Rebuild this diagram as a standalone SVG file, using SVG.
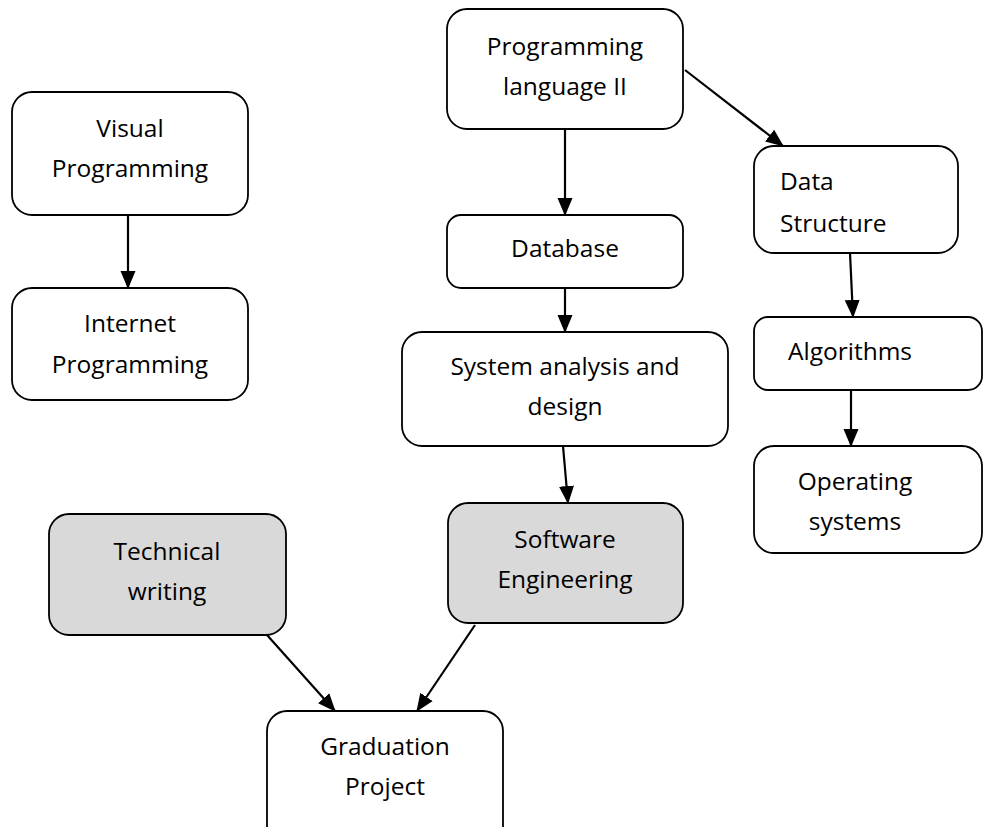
<svg xmlns="http://www.w3.org/2000/svg" width="984" height="827" viewBox="0 0 984 827">
<style>
.box{fill:#fff;stroke:#000;stroke-width:1.8}
.gray{fill:#d9d9d9}
.t{font-family:"Open Sans",Lato,"Liberation Sans",sans-serif;font-size:24.5px;fill:#000;text-anchor:middle}
.l{text-anchor:start}
.c{stroke:#000;stroke-width:2.2;fill:none;marker-end:url(#ah)}
</style>
<defs>
<marker id="ah" markerUnits="userSpaceOnUse" markerWidth="18" markerHeight="18" viewBox="0 0 18 18" refX="17" refY="9" orient="auto">
<path d="M0,1.5 L18,9 L0,16.5 Z" fill="#000"/>
</marker>
</defs>
<rect width="984" height="827" fill="#fff"/>
<g id="visual"><rect class="box" x="12" y="92" width="236" height="123" rx="20"/><text class="t" x="130" y="137">Visual</text><text class="t" x="130" y="177">Programming</text></g>
<g id="internet"><rect class="box" x="12" y="288" width="236" height="112" rx="20"/><text class="t" x="130" y="332">Internet</text><text class="t" x="130" y="373">Programming</text></g>
<g id="proglang"><rect class="box" x="447" y="9" width="236" height="120" rx="20"/><text class="t" x="565" y="55">Programming</text><text class="t" x="565" y="95">language II</text></g>
<g id="database"><rect class="box" x="447" y="215" width="236" height="73" rx="14"/><text class="t" x="565" y="257">Database</text></g>
<g id="datastruct"><rect class="box" x="754" y="146" width="204" height="107" rx="20"/><text class="t l" x="780" y="190">Data</text><text class="t l" x="780" y="232">Structure</text></g>
<g id="algorithms"><rect class="box" x="754" y="317" width="228" height="73" rx="14"/><text class="t" x="850" y="360">Algorithms</text></g>
<g id="opsys"><rect class="box" x="754" y="446" width="228" height="107" rx="20"/><text class="t" x="855" y="490">Operating</text><text class="t" x="855" y="530">systems</text></g>
<g id="sysanalysis"><rect class="box" x="402" y="332" width="326" height="114" rx="20"/><text class="t" x="565" y="375">System analysis and</text><text class="t" x="565" y="415">design</text></g>
<g id="softeng"><rect class="box gray" x="448" y="503" width="235" height="120" rx="20"/><text class="t" x="565" y="548">Software</text><text class="t" x="565" y="588">Engineering</text></g>
<g id="techwriting"><rect class="box gray" x="49" y="514" width="237" height="121" rx="20"/><text class="t" x="167" y="560">Technical</text><text class="t" x="167" y="600">writing</text></g>
<g id="graduation"><rect class="box" x="267" y="711" width="236" height="140" rx="20"/><text class="t" x="385" y="755">Graduation</text><text class="t" x="385" y="795">Project</text></g>
<g id="connectors">
<line class="c" x1="128" y1="215" x2="128" y2="288"/>
<line class="c" x1="565" y1="129" x2="565" y2="215"/>
<line class="c" x1="685" y1="70" x2="783" y2="146"/>
<line class="c" x1="565" y1="288" x2="565" y2="332"/>
<line class="c" x1="850" y1="253" x2="853" y2="317"/>
<line class="c" x1="851" y1="390" x2="851" y2="446"/>
<line class="c" x1="563" y1="446" x2="568" y2="503"/>
<line class="c" x1="267" y1="635" x2="335" y2="711"/>
<line class="c" x1="475" y1="625" x2="417" y2="711"/>
</g>
</svg>
